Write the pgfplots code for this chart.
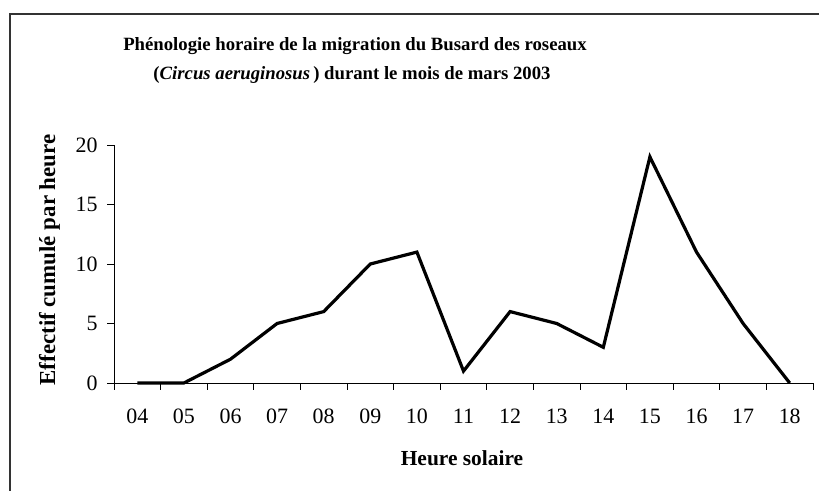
\documentclass[border=0pt]{standalone}
\usepackage{pgfplots}
\pgfplotsset{compat=1.18}
\usepackage{fontspec}
\setmainfont{Liberation Serif}
\begin{document}
\begin{tikzpicture}[x=1bp,y=1bp]
\useasboundingbox (0,0) rectangle (819,491);
\draw[line width=1.2bp, black!80] (10,-2) -- (10,477) -- (821,477);
\node[anchor=base, inner sep=0pt, font=\fontsize{18.8}{21}\selectfont\bfseries] at (355,440.5) {Phénologie horaire de la migration du Busard des roseaux};
\node[anchor=base, inner sep=0pt, font=\fontsize{18.8}{21}\selectfont\bfseries] at (352,411.5) {(\textit{Circus aeruginosus}\,) durant le mois de mars 2003};
\node[anchor=base, inner sep=0pt, font=\fontsize{21.5}{23}\selectfont\bfseries] at (462,25) {Heure solaire};
\node[anchor=base, inner sep=0pt, rotate=90, font=\fontsize{23}{24}\selectfont\bfseries] at (55,231) {Effectif cumulé par heure};
\begin{axis}[
  at={(114bp,108bp)}, anchor=south west,
  scale only axis, width=699bp, height=238bp,
  xmin=-0.5, xmax=14.5, ymin=0, ymax=20,
  axis x line*=bottom, axis y line*=left,
  axis line style={line width=0.8bp, black},
  xtick={0,...,14},
  xticklabels={04,05,06,07,08,09,10,11,12,13,14,15,16,17,18},
  major x tick style={draw=none},
  minor xtick={-0.5,0.5,...,14.5},
  minor tick length=7bp,
  ytick={0,5,10,15,20},
  major tick length=7bp,
  tick align=outside,
  tick style={line width=0.8bp, black},
  ticklabel style={font=\fontsize{22}{22}\selectfont},
  /pgf/number format/assume math mode=true,
  xticklabel style={anchor=base, yshift=-34bp},
  yticklabel style={xshift=-6bp},
  clip=false,
]
\addplot[black, line width=3.2bp, line join=miter] coordinates {
(0,0) (1,0) (2,2) (3,5) (4,6) (5,10) (6,11) (7,1) (8,6) (9,5) (10,3) (11,19) (12,11) (13,5) (14,0)
};
\end{axis}
\end{tikzpicture}
\end{document}
